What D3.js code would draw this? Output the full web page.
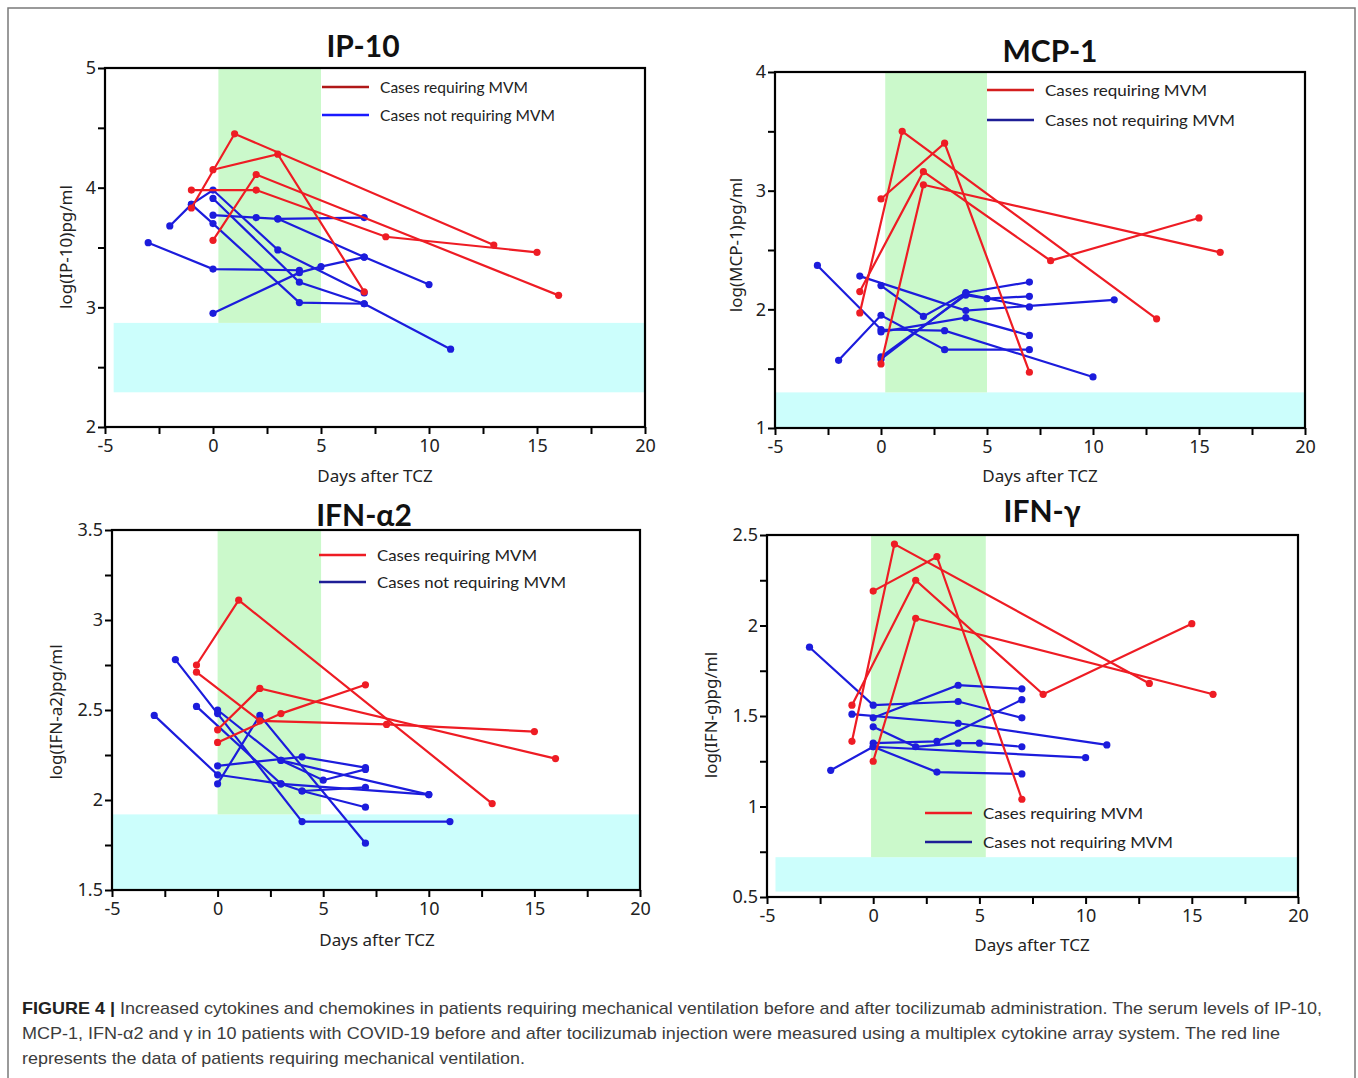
<!DOCTYPE html>
<meta charset="utf-8">
<html>
<head>
  <title>Figure 4 cytokines</title>
</head>
<style>
body {
  margin: 0;
  background: #fff;
}
svg text {
  font-family: "Noto Sans", "DejaVu Sans", sans-serif;
  fill: #222;
}
.title {
  font-family: Lato, "Open Sans", sans-serif;
  font-weight: bold;
  font-size: 30px;
  fill: #111;
}
.legend {
  font-family: Lato, "Open Sans", sans-serif;
  font-size: 16px;
}
.axis-label {
  font-size: 17px;
}
.caption {
  font-family: "Liberation Sans", Arial, sans-serif;
  font-size: 17px;
  fill: #3c3c3c;
}
</style>
<body>
<svg width="1358" height="1078"></svg>
<script src="https://cdnjs.cloudflare.com/ajax/libs/d3/7.8.5/d3.min.js"></script>
<script>
// tick labels
var dayTicks = [-5, 0, 5, 10, 15, 20];
var legendLabels = ["Cases requiring MVM", "Cases not requiring MVM"];

// each series is one patient: [day, log value]
var ip10Red = [
  [[-1, 3.83], [1, 4.45], [13, 3.52]],
  [[-1, 3.98], [2, 3.98], [8, 3.59], [15, 3.46]],
  [[0, 4.15], [3, 4.28], [7, 3.13]],
  [[0, 3.56], [2, 4.11], [16, 3.10]]
];
var ip10Blue = [
  [[-3, 3.54], [0, 3.32], [4, 3.31]],
  [[0, 2.95], [4, 3.29], [5, 3.34], [7, 3.42]],
  [[-2, 3.68], [-1, 3.86], [0, 3.98], [3, 3.48], [7, 3.12]],
  [[0, 3.77], [2, 3.75], [3, 3.74], [7, 3.75]],
  [[3, 3.74], [7, 3.42], [10, 3.19]],
  [[0, 3.91], [4, 3.21], [7, 3.03], [11, 2.65]],
  [[-1, 3.86], [0, 3.70], [4, 3.04], [7, 3.03]]
];

var mcp1Red = [
  [[-1, 1.97], [1, 3.50], [13, 1.92]],
  [[-1, 2.15], [2, 3.16], [8, 2.41], [15, 2.77]],
  [[0, 2.93], [3, 3.40], [7, 1.47]],
  [[0, 1.54], [2, 3.05], [16, 2.48]]
];
var mcp1Blue = [
  [[-3, 2.37], [0, 1.83], [3, 1.82], [10, 1.43]],
  [[-2, 1.57], [0, 1.95], [3, 1.66], [7, 1.66]],
  [[-1, 2.28], [4, 1.99], [11, 2.08]],
  [[0, 2.20], [2, 1.94], [4, 2.14], [7, 2.23]],
  [[0, 1.60], [4, 2.12], [5, 2.09], [7, 2.11]],
  [[0, 1.58], [4, 2.13], [7, 2.02]],
  [[0, 1.81], [4, 1.93], [7, 1.78]]
];

var ifna2Red = [
  [[-1, 2.75], [1, 3.11], [13, 1.98]],
  [[-1, 2.71], [2, 2.44], [8, 2.42], [15, 2.38]],
  [[0, 2.32], [3, 2.48], [7, 2.64]],
  [[0, 2.39], [2, 2.62], [16, 2.23]]
];
var ifna2Blue = [
  [[-3, 2.47], [0, 2.14], [3, 2.09], [10, 2.03]],
  [[-2, 2.78], [0, 2.48], [4, 1.88], [11, 1.88]],
  [[-1, 2.52], [3, 2.09], [4, 2.05], [7, 2.07]],
  [[0, 2.09], [2, 2.47], [7, 1.76]],
  [[0, 2.19], [4, 2.24], [7, 2.18]],
  [[0, 2.50], [3, 2.22], [5, 2.11], [7, 2.17]],
  [[3, 2.22], [10, 2.03]],
  [[4, 2.05], [7, 1.96]]
];

var ifngRed = [
  [[-1, 1.36], [1, 2.45], [13, 1.68]],
  [[-1, 1.56], [2, 2.25], [8, 1.62], [15, 2.01]],
  [[0, 2.19], [3, 2.38], [7, 1.04]],
  [[0, 1.25], [2, 2.04], [16, 1.62]]
];
var ifngBlue = [
  [[-3, 1.88], [0, 1.56], [4, 1.58], [7, 1.49]],
  [[-2, 1.20], [0, 1.33], [3, 1.19], [7, 1.18]],
  [[-1, 1.51], [4, 1.46], [11, 1.34]],
  [[0, 1.49], [4, 1.67], [7, 1.65]],
  [[0, 1.44], [2, 1.33], [4, 1.35], [5, 1.35], [7, 1.33]],
  [[0, 1.35], [3, 1.36], [7, 1.59]],
  [[0, 1.33], [10, 1.27]]
];

var captionLines = [
  ["FIGURE 4 | ", "Increased cytokines and chemokines in patients requiring mechanical ventilation before and after tocilizumab administration. The serum levels of IP-10,"],
  ["", "MCP-1, IFN-\u03b12 and \u03b3 in 10 patients with COVID-19 before and after tocilizumab injection were measured using a multiplex cytokine array system. The red line"],
  ["", "represents the data of patients requiring mechanical ventilation."]
];

var RED = "#ee1c24", BLUE = "#1c1cdc";

var panels = [
  {title: "IP-10", yLabel: "log(IP-10)pg/ml", red: ip10Red, blue: ip10Blue,
   yDomain: [2, 5], yLabels: [2, 3, 4, 5], yStep: 0.5,
   left: 105, right: 645, top: 68, bottom: 427,
   titleX: 363, titleY: 57,
   green: [0.25, 5, 2.87], cyan: [-4.6, 20, 2.29, 2.87],
   legX: 322, legY: 87, legGap: 28, legRed: "#b01818", legBlue: "#1a1aff",
   legW: [148, 175], yLabX: 66, yLabY: 247, xLabX: 375, xLabY: 482},
  {title: "MCP-1", yLabel: "log(MCP-1)pg/ml", red: mcp1Red, blue: mcp1Blue,
   yDomain: [1, 4], yLabels: [1, 2, 3, 4], yStep: 0.5,
   left: 775, right: 1305, top: 72, bottom: 428,
   titleX: 1050, titleY: 62,
   green: [0.2, 5, 1.3], cyan: [-5, 20, 1, 1.3],
   legX: 987, legY: 90, legGap: 30, legRed: "#d41e1e", legBlue: "#1e1e96",
   legW: [162, 190], yLabX: 736, yLabY: 245, xLabX: 1040, xLabY: 482},
  {title: "IFN-\u03b12", yLabel: "log(IFN-a2)pg/ml", red: ifna2Red, blue: ifna2Blue,
   yDomain: [1.5, 3.5], yLabels: [1.5, 2, 2.5, 3, 3.5], yStep: 0.25,
   left: 112, right: 640, top: 530, bottom: 890,
   titleX: 364, titleY: 526,
   green: [0, 4.9, 1.92], cyan: [-5, 20, 1.5, 1.92],
   legX: 319, legY: 555, legGap: 27, legRed: "#ee1c24", legBlue: "#1e1e96",
   legW: [160, 189], yLabX: 56, yLabY: 712, xLabX: 377, xLabY: 946},
  {title: "IFN-\u03b3", yLabel: "log(IFN-g)pg/ml", red: ifngRed, blue: ifngBlue,
   yDomain: [0.5, 2.5], yLabels: [0.5, 1, 1.5, 2, 2.5], yStep: 0.25,
   left: 767, right: 1298, top: 535, bottom: 897,
   titleX: 1042, titleY: 522,
   green: [-0.1, 5.3, 0.72], cyan: [-4.6, 20, 0.53, 0.72],
   legX: 925, legY: 813, legGap: 29, legRed: "#ee1c24", legBlue: "#1e1e96",
   legW: [160, 190], yLabX: 711, yLabY: 715, xLabX: 1032, xLabY: 951}
];

var svg = d3.select("svg");

// outer frame of the figure
svg.append("rect")
  .attr("x", 8).attr("y", 8)
  .attr("width", 1347).attr("height", 1090)
  .attr("fill", "none")
  .attr("stroke", "#7a7a7a")
  .attr("stroke-width", 1.5);

panels.forEach(function(p) {
  var x = d3.scaleLinear().domain([-5, 20]).range([p.left, p.right]);
  var y = d3.scaleLinear().domain(p.yDomain).range([p.bottom, p.top]);
  var g = svg.append("g");

  // shaded bands
  g.append("rect")
    .attr("x", x(p.cyan[0])).attr("width", x(p.cyan[1]) - x(p.cyan[0]))
    .attr("y", y(p.cyan[3])).attr("height", y(p.cyan[2]) - y(p.cyan[3]))
    .attr("fill", "#ccfefc");
  g.append("rect")
    .attr("x", x(p.green[0])).attr("width", x(p.green[1]) - x(p.green[0]))
    .attr("y", p.top).attr("height", y(p.green[2]) - p.top)
    .attr("fill", "#cbf9cb");

  var line = d3.line()
    .x(function(d) { return x(d[0]); })
    .y(function(d) { return y(d[1]); });

  [[p.blue, BLUE], [p.red, RED]].forEach(function(grp) {
    g.selectAll(null)
      .data(grp[0])
      .enter()
      .append("path")
      .attr("d", line)
      .attr("fill", "none")
      .attr("stroke", grp[1])
      .attr("stroke-width", 2.2);
    g.selectAll(null)
      .data(d3.merge(grp[0]))
      .enter()
      .append("circle")
      .attr("cx", function(d) { return x(d[0]); })
      .attr("cy", function(d) { return y(d[1]); })
      .attr("r", 3.6)
      .attr("fill", grp[1]);
  });

  // plot box
  g.append("rect")
    .attr("x", p.left).attr("y", p.top)
    .attr("width", p.right - p.left).attr("height", p.bottom - p.top)
    .attr("fill", "none")
    .attr("stroke", "#000")
    .attr("stroke-width", 2.2);

  // axes
  var xAxis = d3.axisBottom(x)
    .tickValues(d3.range(-5, 20.01, 2.5))
    .tickSize(7)
    .tickFormat(function(d) { return dayTicks.indexOf(d) >= 0 ? d : ""; });
  var yTickVals = d3.range(p.yDomain[0], p.yDomain[1] + 0.001, p.yStep);
  var yAxis = d3.axisLeft(y)
    .tickValues(yTickVals)
    .tickSize(7)
    .tickFormat(function(d) { return p.yLabels.indexOf(d) >= 0 ? d : ""; });

  var gx = g.append("g")
    .attr("transform", "translate(0," + p.bottom + ")")
    .call(xAxis);
  var gy = g.append("g")
    .attr("transform", "translate(" + p.left + ",0)")
    .call(yAxis);
  [gx, gy].forEach(function(a) {
    a.select(".domain").remove();
    a.selectAll("line").attr("stroke", "#000").attr("stroke-width", 2);
    a.selectAll("text")
      .style("font-family", "\"Noto Sans\", sans-serif")
      .style("font-size", "18px")
      .attr("fill", "#222");
  });
  gx.selectAll("text").attr("y", 12);
  gy.selectAll("text").attr("x", -9);

  // titles and axis labels
  g.append("text")
    .attr("class", "title")
    .attr("x", p.titleX).attr("y", p.titleY)
    .attr("text-anchor", "middle")
    .text(p.title);
  g.append("text")
    .attr("class", "axis-label")
    .attr("x", p.xLabX).attr("y", p.xLabY)
    .attr("text-anchor", "middle")
    .text("Days after TCZ");
  g.append("text")
    .attr("class", "axis-label")
    .attr("transform", "translate(" + p.yLabX + "," + p.yLabY + ") rotate(-90)")
    .attr("text-anchor", "middle")
    .attr("dy", "0.35em")
    .text(p.yLabel);

  // legend
  [p.legRed, p.legBlue].forEach(function(c, i) {
    var ly = p.legY + i * p.legGap;
    g.append("line")
      .attr("x1", p.legX).attr("x2", p.legX + 47)
      .attr("y1", ly).attr("y2", ly)
      .attr("stroke", c)
      .attr("stroke-width", 2.4);
    g.append("text")
      .attr("class", "legend")
      .attr("x", p.legX + 58).attr("y", ly + 6)
      .attr("textLength", p.legW[i])
      .attr("lengthAdjust", "spacingAndGlyphs")
      .text(legendLabels[i]);
  });
});

// caption
var capWidths = [1300, 1258, 503];
captionLines.forEach(function(l, i) {
  var t = svg.append("text")
    .attr("class", "caption")
    .attr("x", 22)
    .attr("y", 1014 + i * 25)
    .attr("textLength", capWidths[i])
    .attr("lengthAdjust", "spacingAndGlyphs");
  if (l[0]) {
    t.append("tspan").attr("font-weight", "bold").attr("fill", "#222").text(l[0]);
  }
  t.append("tspan").text(l[1]);
});
</script>
</body>
</html>
